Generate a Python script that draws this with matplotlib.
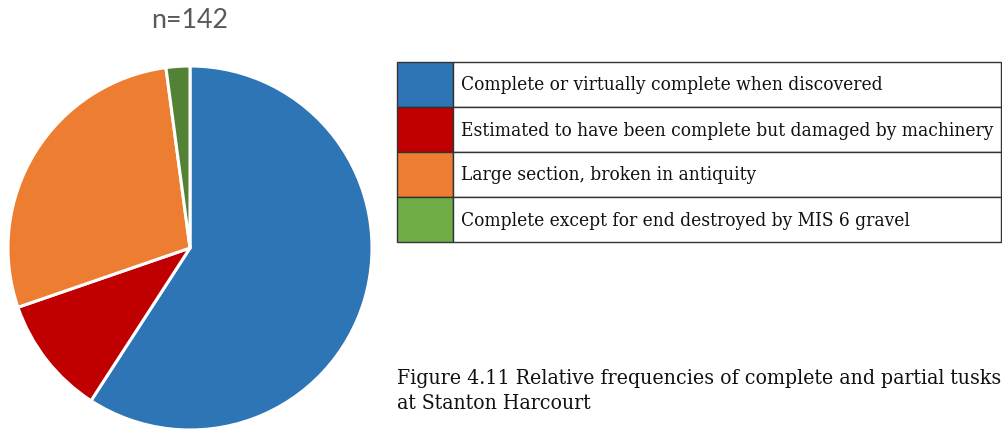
import matplotlib
matplotlib.use("Agg")
import matplotlib.pyplot as plt
from matplotlib.patches import Rectangle

categories = [
    "Complete or virtually complete when discovered",
    "Estimated to have been complete but damaged by machinery",
    "Large section, broken in antiquity",
    "Complete except for end destroyed by MIS 6 gravel",
]
counts = [84, 15, 40, 3]
pie_colors = ["#2E75B6", "#C00000", "#ED7D31", "#548235"]
legend_colors = ["#2E75B6", "#C00000", "#ED7D31", "#70AD47"]
title = "n=142"
caption = "Figure 4.11 Relative frequencies of complete and partial tusks\nat Stanton Harcourt"

W, H = 1002, 429
fig = plt.figure(figsize=(W / 100, H / 100), dpi=100)

def fbox(x0, y0, x1, y1):
    return [x0 / W, 1 - y1 / H, (x1 - x0) / W, (y1 - y0) / H]

# Pie
ax = fig.add_axes(fbox(8, 66, 372, 430))
ax.pie(counts, colors=pie_colors, startangle=90, counterclock=False, radius=1,
       wedgeprops=dict(edgecolor="white", linewidth=2.2))
ax.set_xlim(-1, 1)
ax.set_ylim(-1, 1)
ax.set_aspect("equal")
for p in ax.patches:
    p.set_clip_on(False)
ax.axis("off")

fig.text(190 / W, 1 - 21 / H, title, ha="center", va="center",
         fontsize=19.3, color="#595959", family="Lato")

# Legend table
lx0, lx1, ly0, ly1 = 397, 1001, 62, 242
lax = fig.add_axes(fbox(lx0, ly0, lx1, ly1))
lax.set_xlim(lx0, lx1)
lax.set_ylim(ly1, ly0)
lax.axis("off")
rh = (ly1 - ly0) / len(categories)
for i, (lab, c) in enumerate(zip(categories, legend_colors)):
    y = ly0 + i * rh
    lax.add_patch(Rectangle((lx0, y), 56, rh, facecolor=c, edgecolor="#333333",
                            linewidth=1, clip_on=False))
    lax.add_patch(Rectangle((lx0 + 56, y), lx1 - lx0 - 56, rh, facecolor="white",
                            edgecolor="#333333", linewidth=1, clip_on=False))
    lax.text(lx0 + 64, y + rh / 2 + 1, lab, ha="left", va="center",
             fontsize=13.7, family="DejaVu Serif", stretch="condensed",
             color="#111111")

fig.text(397 / W, 1 - 369 / H, caption, ha="left", va="top",
         fontsize=15.2, family="DejaVu Serif", stretch="condensed",
         color="#111111", linespacing=1.38)

fig.savefig("out.png", dpi=100)
